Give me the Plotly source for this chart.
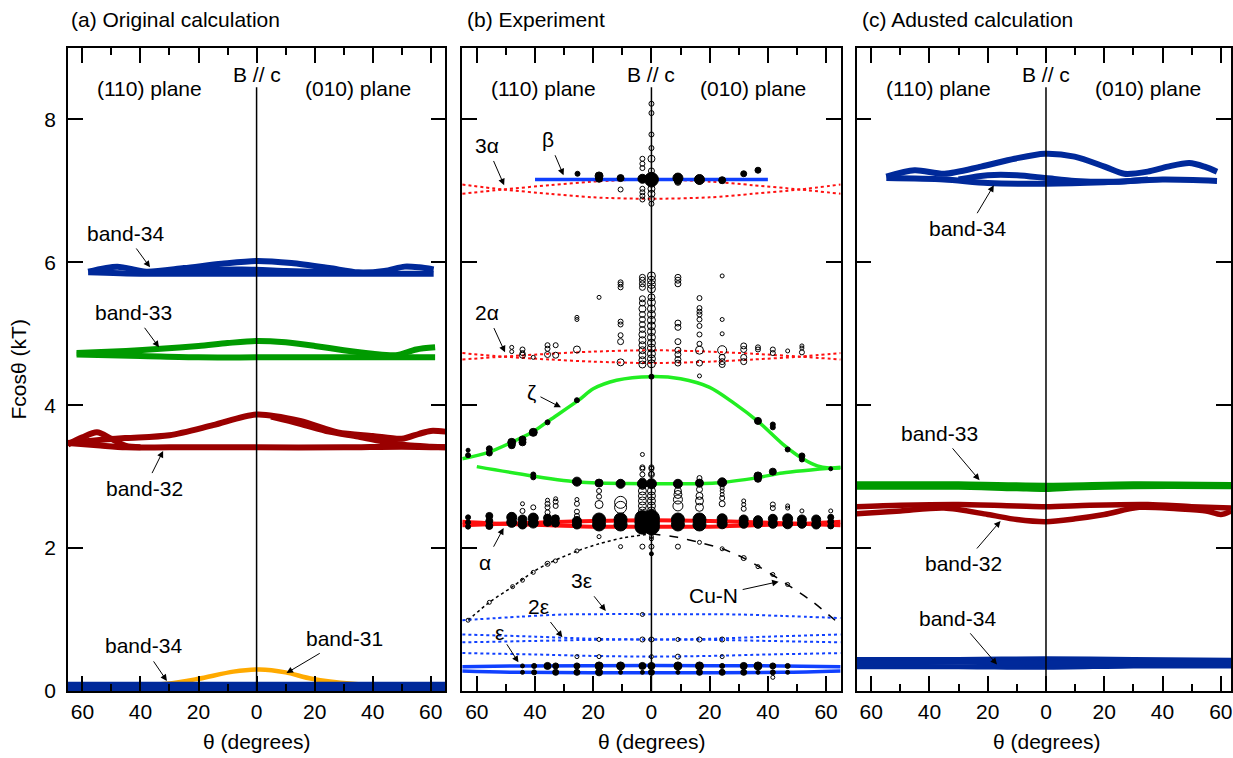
import plotly.graph_objects as go

# ---------------- figure geometry (pixels) ----------------
W, H = 1233, 758
HV = 746  # vertical extent the page actually gives the figure
PLOT_TOP, PLOT_BOTTOM = 48, 690
PANELS = {"a": (68, 446), "b": (463, 842), "c": (858, 1233)}
X_RANGES = {"a": [-65, 65], "b": [-65, 65], "c": [-65, 63.5]}
AX = {"a": ("x", "y"), "b": ("x2", "y2"), "c": ("x3", "y3")}

NAVY = "#00299a"
GREEN = "#009a00"
DARKRED = "#9a0000"
ORANGE = "#ffaa00"
BLUE = "#1040ff"
RED = "#ff1010"
LIME = "#22ee22"
FONT = "Liberation Sans, Arial, sans-serif"
FS = 21

# ---------------- (a) original calculation ----------------
a34_theta_low = [-58, -40, -20, 0, 20, 40, 61]
a34_F_low = [5.86, 5.84, 5.84, 5.84, 5.84, 5.84, 5.84]
a34_theta_up = [-58, -48, -38, -25, -12, 0, 12, 25, 35, 44, 51, 56, 61]
a34_F_up = [5.87, 5.94, 5.87, 5.92, 5.98, 6.02, 5.99, 5.92, 5.86, 5.88, 5.94, 5.93, 5.90]
a34_theta_in = [-35, -20, -5, 10, 25]
a34_F_in = [5.86, 5.89, 5.90, 5.88, 5.86]

a33_theta_low = [-62, -40, -20, 0, 20, 40, 61.5]
a33_F_low = [4.71, 4.69, 4.67, 4.67, 4.67, 4.67, 4.67]
a33_theta_up = [-62, -45, -33, -20, -10, 0, 10, 20, 30, 40, 48, 55, 61.5]
a33_F_up = [4.73, 4.76, 4.79, 4.83, 4.87, 4.90, 4.88, 4.83, 4.77, 4.72, 4.70, 4.78, 4.81]

a32_theta_low = [-65, -55, -45, -30, 0, 30, 50, 65]
a32_F_low = [3.47, 3.44, 3.41, 3.41, 3.41, 3.41, 3.42, 3.41]
a32_theta_up = [-65, -55, -45, -30, -15, 0, 15, 28, 40, 50, 56, 60, 65]
a32_F_up = [3.47, 3.51, 3.54, 3.58, 3.72, 3.87, 3.78, 3.62, 3.57, 3.53, 3.60, 3.64, 3.63]
a32_theta_bump = [-65, -60, -55, -50, -45, -40]
a32_F_bump = [3.45, 3.55, 3.62, 3.53, 3.43, 3.41]
a32_theta_cross = [5, 15, 25, 35, 45, 52, 60, 65]
a32_F_cross = [3.84, 3.74, 3.63, 3.56, 3.48, 3.44, 3.42, 3.41]

a31_theta = [-65, -31, -20, -8, 1, 10, 19, 33, 65]
a31_F = [0.05, 0.10, 0.17, 0.27, 0.30, 0.26, 0.17, 0.10, 0.04]
a34b_theta = [-65, 0, 65]
a34b_F = [0.06, 0.06, 0.06]

# ---------------- (b) experiment: guide curves ----------------
alpha_theta = [-65, -51, -35, -20, 0, 20, 35, 51, 65]
three_alpha_A = [6.96, 7.02, 7.08, 7.13, 7.16, 7.13, 7.08, 7.02, 6.96]
three_alpha_B = [7.09, 7.02, 6.96, 6.91, 6.89, 6.91, 6.96, 7.02, 7.09]
two_alpha_A = [4.64, 4.68, 4.72, 4.75, 4.77, 4.75, 4.72, 4.68, 4.64]
two_alpha_B = [4.73, 4.68, 4.64, 4.61, 4.59, 4.61, 4.64, 4.68, 4.73]
alpha_A = [2.32, 2.34, 2.36, 2.38, 2.39, 2.38, 2.36, 2.34, 2.32]
alpha_B = [2.37, 2.34, 2.32, 2.30, 2.30, 2.30, 2.32, 2.34, 2.37]

beta_theta = [-40, 40]
beta_F = [7.16, 7.16]

zeta_up_theta = [-65, -56, -48, -41, -35, -25, -20, -12, 0, 10, 20, 28, 37, 45, 52, 57, 61, 65]
zeta_up_F = [3.25, 3.34, 3.48, 3.62, 3.79, 4.07, 4.23, 4.35, 4.40, 4.37, 4.25, 4.04, 3.76, 3.46, 3.25, 3.15, 3.12, 3.12]
zeta_low_theta = [-60, -41, -24, 0, 22, 37, 45, 65]
zeta_low_F = [3.14, 3.01, 2.92, 2.90, 2.91, 2.99, 3.05, 3.13]

cun_left_theta = [-63, -55.7, -47.7, -40.9, -35.7, -25.4, -18, -10, 0]
cun_left_F = [0.99, 1.24, 1.46, 1.66, 1.78, 1.96, 2.06, 2.14, 2.20]
cun_right_theta = [0, 9, 16.3, 24.3, 31.7, 36.9, 41.4, 46.6, 55, 63.1]
cun_right_F = [2.20, 2.15, 2.08, 1.99, 1.86, 1.74, 1.63, 1.49, 1.26, 0.99]

eps_theta = [-65, -45, 0, 45, 65]
eps_A = [0.34, 0.35, 0.355, 0.35, 0.34]
eps_B = [0.28, 0.26, 0.255, 0.26, 0.28]
eps3_theta = [-65, -45, -30, 0, 30, 45, 65]
eps3_F = [0.99, 1.04, 1.07, 1.075, 1.07, 1.05, 1.02]
eps2_theta = [-65, -40, -20, 0, 20, 40, 65]
eps2_A = [0.79, 0.76, 0.73, 0.72, 0.73, 0.76, 0.79]
eps2_B = [0.68, 0.70, 0.715, 0.72, 0.715, 0.70, 0.68]
eps2_C = [0.53, 0.51, 0.49, 0.48, 0.49, 0.51, 0.53]

# ---------------- (b) experiment: measured frequencies ----------------
# filled symbols: (theta, F, diameter in px)
beta_pts = [(-25.4, 7.24, 5), (-18, 7.21, 8), (-18, 7.17, 7), (-10.6, 7.18, 7), (-3.1, 7.17, 9),
            (0, 7.16, 14), (9.1, 7.18, 10), (9.1, 7.14, 7), (16.5, 7.16, 10), (24.3, 7.15, 7),
            (31.7, 7.24, 6), (36.6, 7.29, 6)]
zeta_pts = [(-63, 3.37, 4), (-63, 3.30, 5), (-55.7, 3.39, 6), (-55.7, 3.33, 6), (-48, 3.48, 8),
            (-48, 3.44, 7), (-44.3, 3.52, 7), (-44.3, 3.48, 7), (-40.6, 3.62, 8), (-35.7, 3.76, 5),
            (-25.6, 4.07, 5), (0, 4.40, 5), (36.6, 3.78, 7), (41.7, 3.73, 5), (41.7, 3.69, 5),
            (46.8, 3.38, 5), (51.7, 3.29, 6), (51.7, 3.24, 5), (61.6, 3.11, 4),
            (-40.6, 3.03, 5), (-40.6, 2.99, 5), (-25.6, 2.93, 9), (-18, 2.91, 8), (-10.6, 2.90, 9),
            (-3.1, 2.90, 10), (0, 2.90, 10), (9.1, 2.90, 9), (16.5, 2.91, 8), (24.3, 2.92, 9),
            (36.6, 3.01, 8), (36.6, 2.97, 7), (41.7, 3.07, 7)]
alpha_pts = [(-63, 2.43, 5), (-63, 2.36, 5), (-63, 2.30, 5),
             (-55.7, 2.45, 7), (-55.7, 2.38, 7), (-55.7, 2.31, 7),
             (-48, 2.43, 10), (-48, 2.36, 10), (-44.3, 2.40, 9), (-44.3, 2.33, 9),
             (-40.6, 2.42, 10), (-40.6, 2.35, 10), (-35.7, 2.42, 8), (-35.7, 2.36, 8),
             (-33, 2.41, 8), (-33, 2.35, 8), (-25.6, 2.38, 9), (-25.6, 2.33, 9),
             (-18, 2.40, 13), (-18, 2.33, 13), (-10.6, 2.40, 13), (-10.6, 2.33, 13),
             (-3.1, 2.42, 15), (-3.1, 2.36, 15), (-3.1, 2.30, 15),
             (0, 2.42, 16), (0, 2.36, 16), (0, 2.30, 16),
             (9.1, 2.40, 13), (9.1, 2.33, 13), (16.5, 2.40, 13), (16.5, 2.33, 13),
             (24.3, 2.41, 10), (24.3, 2.34, 10), (31.7, 2.40, 9), (31.7, 2.34, 9),
             (36.6, 2.39, 9), (36.6, 2.34, 9), (41.7, 2.41, 9), (41.7, 2.34, 9),
             (46.8, 2.41, 10), (46.8, 2.34, 10), (51.7, 2.40, 9), (51.7, 2.34, 9),
             (56.6, 2.40, 9), (56.6, 2.33, 9), (61.6, 2.43, 6), (61.6, 2.37, 6), (61.6, 2.31, 6)]
eps_pts = [(-44.3, 0.35, 4), (-44.3, 0.26, 4), (-40.3, 0.35, 5), (-40.3, 0.26, 5), (-35.7, 0.35, 7),
           (-32.9, 0.35, 6), (-32.9, 0.26, 6), (-25.6, 0.35, 6), (-25.6, 0.26, 6), (-18, 0.35, 8),
           (-18, 0.26, 7), (-10.6, 0.35, 8), (-10.6, 0.26, 4), (-3.1, 0.35, 7), (-3.1, 0.26, 4),
           (0, 0.35, 7), (0, 0.26, 6), (9.1, 0.35, 8), (9.1, 0.26, 4), (16.5, 0.35, 8),
           (16.5, 0.26, 6), (24.3, 0.35, 5), (24.3, 0.26, 6), (31.7, 0.35, 7), (31.7, 0.26, 6),
           (36.6, 0.35, 8), (36.6, 0.26, 4), (41.7, 0.35, 6), (41.7, 0.26, 5), (46.8, 0.35, 5),
           (46.8, 0.26, 4), (0, 1.92, 4)]

# open symbols: (theta, F, diameter in px)
open_top = [(0, 8.22, 5), (0, 8.09, 5), (0, 7.79, 5), (0, 7.60, 5), (0, 7.45, 7), (0, 7.28, 6),
            (0, 7.22, 6), (0, 7.10, 7), (0, 7.03, 7), (0, 6.96, 7), (0, 6.89, 6), (0, 6.82, 5),
            (-3.1, 7.45, 5), (-3.1, 7.38, 5), (-3.1, 7.32, 5), (-3.1, 7.03, 5), (-3.1, 6.98, 5),
            (-3.1, 6.93, 5), (-3.1, 6.88, 5), (-10.6, 7.02, 5), (9.1, 7.12, 6), (16.5, 7.13, 5)]
open_mid = [(-48, 4.81, 4), (-48, 4.75, 4), (-44.3, 4.78, 5), (-44.3, 4.73, 5), (-44.3, 4.70, 6),
            (-40.6, 4.67, 4), (-35.7, 4.84, 5), (-35.7, 4.79, 5), (-35.7, 4.71, 6), (-32.9, 4.84, 5),
            (-32.9, 4.70, 6), (-25.6, 5.23, 4), (-25.6, 5.20, 4), (-25.6, 4.78, 7), (-18, 5.51, 4),
            (-10.6, 5.72, 5), (-10.6, 5.69, 5), (-10.6, 5.65, 5), (-10.6, 5.17, 5), (-10.6, 5.13, 5),
            (-10.6, 4.98, 5), (-10.6, 4.89, 6), (-10.6, 4.60, 7),
            (-3.1, 5.79, 6), (-3.1, 5.75, 6), (-3.1, 5.70, 6), (-3.1, 5.65, 6), (-3.1, 5.49, 6),
            (-3.1, 5.43, 6), (-3.1, 5.35, 7), (-3.1, 5.27, 6), (-3.1, 5.20, 6), (-3.1, 5.13, 6),
            (-3.1, 5.06, 6), (-3.1, 4.99, 7), (-3.1, 4.91, 7), (-3.1, 4.84, 7), (-3.1, 4.77, 7),
            (-3.1, 4.70, 7), (-3.1, 4.63, 7), (-3.1, 4.57, 7),
            (0, 5.81, 8), (0, 5.75, 8), (0, 5.69, 8), (0, 5.63, 8), (0, 5.51, 7), (0, 5.44, 8),
            (0, 5.35, 8), (0, 5.27, 8), (0, 5.19, 8), (0, 5.11, 8), (0, 5.03, 8), (0, 4.95, 8),
            (0, 4.87, 8), (0, 4.80, 8), (0, 4.72, 8), (0, 4.65, 8), (0, 4.58, 8),
            (9.1, 5.79, 6), (9.1, 5.75, 6), (9.1, 5.70, 6), (9.1, 5.15, 6), (9.1, 5.09, 6),
            (9.1, 4.89, 6), (9.1, 4.77, 6), (9.1, 4.71, 6), (9.1, 4.64, 6), (9.1, 4.59, 6),
            (16.5, 5.50, 5), (16.5, 5.36, 5), (16.5, 5.31, 5), (16.5, 5.27, 5), (16.5, 5.20, 5),
            (16.5, 5.11, 5), (16.5, 4.99, 5), (16.5, 4.86, 5), (16.5, 4.77, 8), (16.5, 4.59, 6),
            (16.5, 4.41, 4),
            (24.3, 5.81, 4), (24.3, 5.20, 4), (24.3, 5.00, 4), (24.3, 4.77, 9), (24.3, 4.67, 6),
            (24.3, 4.61, 6), (24.3, 4.57, 6), (31.7, 4.83, 6), (31.7, 4.78, 6), (31.7, 4.67, 6),
            (31.7, 4.61, 6), (36.6, 4.81, 5), (36.6, 4.78, 5), (41.7, 4.78, 5), (41.7, 4.73, 5),
            (46.8, 4.76, 4), (51.7, 4.83, 4), (51.7, 4.80, 4), (51.7, 4.74, 5),
            (-3.1, 3.31, 4), (-3.1, 3.11, 5), (0, 3.11, 5), (0, 3.04, 5)]
open_low = [(-44.3, 2.62, 4), (-44.3, 2.52, 5), (-40.6, 2.57, 5), (-35.7, 2.67, 4), (-35.7, 2.62, 5),
            (-35.7, 2.57, 5), (-35.7, 2.50, 5), (-32.9, 2.69, 4), (-32.9, 2.65, 5), (-32.9, 2.59, 5),
            (-25.6, 2.68, 4), (-25.6, 2.62, 5), (-25.6, 2.51, 5), (-25.6, 2.45, 5),
            (-18, 2.91, 4), (-18, 2.80, 5), (-18, 2.72, 5), (-18, 2.61, 8),
            (-10.6, 2.64, 12), (-10.6, 2.57, 12),
            (-3.1, 3.13, 5), (-3.1, 3.03, 5), (-3.1, 2.94, 6), (-3.1, 2.87, 7), (-3.1, 2.80, 8),
            (-3.1, 2.73, 8), (-3.1, 2.66, 8), (-3.1, 2.59, 8), (-3.1, 2.52, 8),
            (0, 3.13, 5), (0, 3.03, 6), (0, 2.80, 8), (0, 2.73, 8), (0, 2.66, 8), (0, 2.59, 8),
            (0, 2.52, 8), (9.1, 2.80, 7), (9.1, 2.75, 8), (9.1, 2.68, 9), (9.1, 2.59, 10),
            (16.5, 2.98, 5), (16.5, 2.89, 5), (16.5, 2.82, 6), (16.5, 2.73, 7), (16.5, 2.66, 8),
            (16.5, 2.57, 8), (24.3, 2.84, 4), (24.3, 2.80, 4), (24.3, 2.75, 4), (24.3, 2.70, 5),
            (24.3, 2.62, 6), (31.7, 2.66, 4), (31.7, 2.61, 4), (31.7, 2.55, 5), (41.7, 2.61, 5),
            (41.7, 2.56, 5), (46.8, 2.59, 4), (46.8, 2.56, 4), (51.7, 2.52, 4), (61.6, 2.52, 4),
            (-18, 2.16, 4), (0, 2.16, 4), (-10.6, 2.02, 4), (-3.1, 2.02, 5), (0, 2.02, 5),
            (9.1, 2.02, 5), (0, 2.13, 4)]
open_cun = [(-63, 0.99, 4), (-55.7, 1.24, 4), (-47.7, 1.46, 4), (-44.3, 1.55, 4), (-40.6, 1.66, 4),
            (-35.7, 1.78, 5), (-33, 1.82, 4), (-25.6, 1.96, 4), (16.5, 2.08, 4), (24.3, 1.99, 4),
            (31.7, 1.86, 5), (36.6, 1.74, 4), (41.7, 1.63, 4), (46.8, 1.49, 4)]
open_eps = [(-3.1, 1.07, 4), (-18, 0.72, 4), (-3.1, 0.72, 5), (0, 0.72, 5), (9.1, 0.72, 4),
            (16.5, 0.72, 5), (24.3, 0.72, 5), (-25.6, 0.48, 4), (-18, 0.48, 4), (0, 0.48, 4),
            (9.1, 0.48, 5), (24.3, 0.48, 4), (41.7, 0.19, 4)]

# ---------------- (c) adjusted calculation ----------------
c34_theta_up = [-54.8, -45.1, -34.8, -22.3, -10.8, -0.5, 9.8, 20.1, 26.9, 34.9, 41.8, 49.2, 54.4, 58.7]
c34_F_up = [7.20, 7.29, 7.24, 7.34, 7.45, 7.52, 7.48, 7.34, 7.24, 7.27, 7.34, 7.39, 7.34, 7.27]
c34_theta_low = [-54.8, -35, -20, 0, 20, 40, 58.7]
c34_F_low = [7.18, 7.16, 7.11, 7.10, 7.12, 7.16, 7.14]
c34_theta_in = [-30, -20, -10, 0, 10, 25, 35]
c34_F_in = [7.16, 7.22, 7.22, 7.18, 7.14, 7.13, 7.16]

c33_theta_a = [-65, -30, 0, 30, 63.5]
c33_F_a = [2.90, 2.90, 2.88, 2.90, 2.89]
c33_theta_b = [-65, -30, -10, 0, 10, 30, 63.5]
c33_F_b = [2.85, 2.85, 2.83, 2.82, 2.84, 2.86, 2.86]

c32_theta_up = [-65, -50, -30, -10, 0, 15, 35, 50, 63.5]
c32_F_up = [2.58, 2.60, 2.61, 2.59, 2.58, 2.60, 2.61, 2.58, 2.56]
c32_theta_low = [-65, -50, -35, -20, -10, 0, 10, 20, 32, 45, 55, 60, 63.5]
c32_F_low = [2.48, 2.52, 2.56, 2.47, 2.40, 2.37, 2.41, 2.47, 2.57, 2.55, 2.52, 2.47, 2.52]

c34b_theta = [-65, -30, 0, 30, 63.5]
c34b_A = [0.44, 0.44, 0.45, 0.44, 0.43]
c34b_B = [0.34, 0.34, 0.33, 0.35, 0.35]
c34b_C = [0.39, 0.40, 0.39, 0.40, 0.38]

# ---------------- axis ticks ----------------
major_vals = [-60, -40, -20, 0, 20, 40, 60]
major_text = ["60", "40", "20", "0", "20", "40", "60"]
minor_vals = [-50, -30, -10, 10, 30, 50]
y_vals = [0, 2, 4, 6, 8]
y_text = ["0", "2", "4", "6", "8"]

fig = go.Figure()


def line(panel, x, y, color, width, dash="solid", shape="spline"):
    xa, ya = AX[panel]
    fig.add_trace(go.Scatter(x=x, y=y, mode="lines", xaxis=xa, yaxis=ya,
                             line=dict(color=color, width=width, dash=dash, shape=shape,
                                       smoothing=0.8),
                             hoverinfo="skip", showlegend=False))


def dots(panel, pts, filled):
    xa, ya = AX[panel]
    fig.add_trace(go.Scatter(
        x=[p[0] for p in pts], y=[p[1] for p in pts], mode="markers", xaxis=xa, yaxis=ya,
        marker=dict(size=[p[2] for p in pts], opacity=1,
                    symbol="circle" if filled else "circle-open",
                    color="black", line=dict(color="black", width=1)),
        hoverinfo="skip", showlegend=False))


# panel (a)
for xs, ys in [(a34_theta_low, a34_F_low), (a34_theta_up, a34_F_up), (a34_theta_in, a34_F_in)]:
    line("a", xs, ys, NAVY, 6)
for xs, ys in [(a33_theta_low, a33_F_low), (a33_theta_up, a33_F_up)]:
    line("a", xs, ys, GREEN, 6)
for xs, ys in [(a32_theta_low, a32_F_low), (a32_theta_up, a32_F_up),
               (a32_theta_bump, a32_F_bump), (a32_theta_cross, a32_F_cross)]:
    line("a", xs, ys, DARKRED, 6)
line("a", a31_theta, a31_F, ORANGE, 4.5)
line("a", a34b_theta, a34b_F, NAVY, 10, shape="linear")

# panel (b)
for ys in (three_alpha_A, three_alpha_B, two_alpha_A, two_alpha_B):
    line("b", alpha_theta, ys, RED, 2, dash="dot")
line("b", alpha_theta, alpha_A, RED, 4)
line("b", alpha_theta, alpha_B, RED, 4)
line("b", beta_theta, beta_F, BLUE, 3.5, shape="linear")
line("b", zeta_up_theta, zeta_up_F, LIME, 3.5)
line("b", zeta_low_theta, zeta_low_F, LIME, 3.5)
line("b", cun_left_theta, cun_left_F, "black", 1.5, dash="dot")
line("b", cun_right_theta, cun_right_F, "black", 1.5, dash="dash")
line("b", eps3_theta, eps3_F, BLUE, 2, dash="dot")
for ys in (eps2_A, eps2_B, eps2_C):
    line("b", eps2_theta, ys, BLUE, 2, dash="dot")
line("b", eps_theta, eps_A, BLUE, 3.5)
line("b", eps_theta, eps_B, BLUE, 3.5)
for pts in (open_top, open_mid, open_low, open_cun, open_eps):
    dots("b", pts, False)
for pts in (beta_pts, zeta_pts, alpha_pts, eps_pts):
    dots("b", pts, True)

# panel (c)
for xs, ys in [(c34_theta_low, c34_F_low), (c34_theta_up, c34_F_up), (c34_theta_in, c34_F_in)]:
    line("c", xs, ys, NAVY, 6)
line("c", c33_theta_a, c33_F_a, GREEN, 5)
line("c", c33_theta_b, c33_F_b, GREEN, 5)
line("c", c32_theta_up, c32_F_up, DARKRED, 5.5)
line("c", c32_theta_low, c32_F_low, DARKRED, 5.5)
for ys in (c34b_A, c34b_B, c34b_C):
    line("c", c34b_theta, ys, NAVY, 5)


def fy(py):
    """Vertical pixel position (from the top) to a paper fraction."""
    return 1 - py / HV


# ---------------- axes ----------------
ydom = [fy(PLOT_BOTTOM), fy(PLOT_TOP)]
layout_axes = {}
for i, p in enumerate(["a", "b", "c"]):
    sfx = "" if i == 0 else str(i + 1)
    x0, x1 = PANELS[p]
    layout_axes["xaxis" + sfx] = dict(
        domain=[x0 / W, x1 / W], range=X_RANGES[p], anchor="y" + sfx,
        showline=True, linecolor="black", linewidth=1.5, mirror="allticks",
        ticks="inside", ticklen=15, tickwidth=1.5, tickcolor="black",
        tickmode="array", tickvals=major_vals, ticktext=major_text, ticklabelstandoff=1,
        minor=dict(tickmode="array", tickvals=minor_vals, ticks="inside", ticklen=7,
                   tickwidth=1.5, tickcolor="black"),
        showgrid=False, zeroline=False, fixedrange=True,
        tickfont=dict(family=FONT, size=FS, color="black"))
    layout_axes["yaxis" + sfx] = dict(
        domain=ydom, range=[0, 9], anchor="x" + sfx,
        showline=True, linecolor="black", linewidth=1.5, mirror="allticks",
        ticks="inside", ticklen=15, tickwidth=1.5, tickcolor="black",
        tickmode="array", tickvals=y_vals, ticktext=y_text, ticklabelstandoff=6,
        showticklabels=(p == "a"), showgrid=False, zeroline=False, fixedrange=True,
        tickfont=dict(family=FONT, size=FS, color="black"))

shapes = []
for p in ["a", "b", "c"]:
    xa, ya = AX[p]
    shapes.append(dict(type="line", xref=xa, yref=ya, x0=0, x1=0, y0=0, y1=8.45,
                       line=dict(color="black", width=1.5), layer="above"))

ann = []


def text(panel, x, y, s):
    xa, ya = AX[panel]
    ann.append(dict(xref=xa, yref=ya, x=x, y=y, text=s, showarrow=False,
                    font=dict(family=FONT, size=FS, color="black")))


def pointer(panel, tip_x, tip_y, tx, ty, s):
    xa, ya = AX[panel]
    ann.append(dict(xref=xa, yref=ya, x=tip_x, y=tip_y, axref=xa, ayref=ya, ax=tx, ay=ty,
                    text=s, showarrow=True, arrowhead=2, arrowsize=1.3, arrowwidth=1,
                    arrowcolor="black", standoff=0, startstandoff=3,
                    font=dict(family=FONT, size=FS, color="black")))


for p in ["a", "b", "c"]:
    text(p, -37, 8.43, "(110) plane")
    text(p, 35, 8.43, "(010) plane")
    text(p, 0, 8.63, "B // c")

pointer("a", -36.7, 5.93, -45.3, 6.41, "band-34")
pointer("a", -33.6, 4.81, -42.5, 5.30, "band-33")
pointer("a", -32.2, 3.36, -38.7, 2.83, "band-32")
pointer("a", -30.9, 0.14, -39.1, 0.63, "band-34")
pointer("a", 10.3, 0.25, 30.2, 0.73, "band-31")

pointer("b", -50.6, 7.08, -56.6, 7.64, "3α")
pointer("b", -30.2, 7.22, -35.4, 7.72, "β")
pointer("b", -50.3, 4.74, -56.6, 5.30, "2α")
pointer("b", -31.1, 3.97, -41.1, 4.18, "ζ")
pointer("b", -50.8, 2.28, -57.1, 1.80, "α")
pointer("b", -15.7, 1.12, -23.9, 1.54, "3ε")
pointer("b", -30.6, 0.75, -38.8, 1.18, "2ε")
pointer("b", -45.7, 0.40, -52.3, 0.82, "ε")
pointer("b", 43.7, 1.53, 21.4, 1.33, "Cu-N")

pointer("c", -17.9, 7.08, -26.8, 6.47, "band-34")
pointer("c", -22.8, 2.95, -36.5, 3.61, "band-33")
pointer("c", -15.6, 2.38, -28.2, 1.78, "band-32")
pointer("c", -16.8, 0.37, -30.5, 1.02, "band-34")

# panel titles and axis titles
for x_px, s in [(69, "(a) Original calculation"), (466, "(b) Experiment"),
                (861, "(c) Adusted calculation")]:
    ann.append(dict(xref="paper", yref="paper", x=x_px / W, y=fy(19), text=s,
                    showarrow=False, xanchor="left", yanchor="middle",
                    font=dict(family=FONT, size=FS, color="black")))
for x_px in (257, 652.5, 1048.3):
    ann.append(dict(xref="paper", yref="paper", x=x_px / W, y=fy(741), text="θ (degrees)",
                    showarrow=False, xanchor="center", yanchor="middle",
                    font=dict(family=FONT, size=FS, color="black")))
ann.append(dict(xref="paper", yref="paper", x=19 / W, y=fy(369), text="Fcosθ (kT)",
                showarrow=False, textangle=-90, xanchor="center", yanchor="middle",
                font=dict(family=FONT, size=FS, color="black")))

fig.update_layout(width=W, height=H, autosize=False, margin=dict(l=0, r=0, t=0, b=0),
                  paper_bgcolor="white", plot_bgcolor="white",
                  shapes=shapes, annotations=ann, showlegend=False, **layout_axes)

fig.write_html("out.html", config={"responsive": False})
